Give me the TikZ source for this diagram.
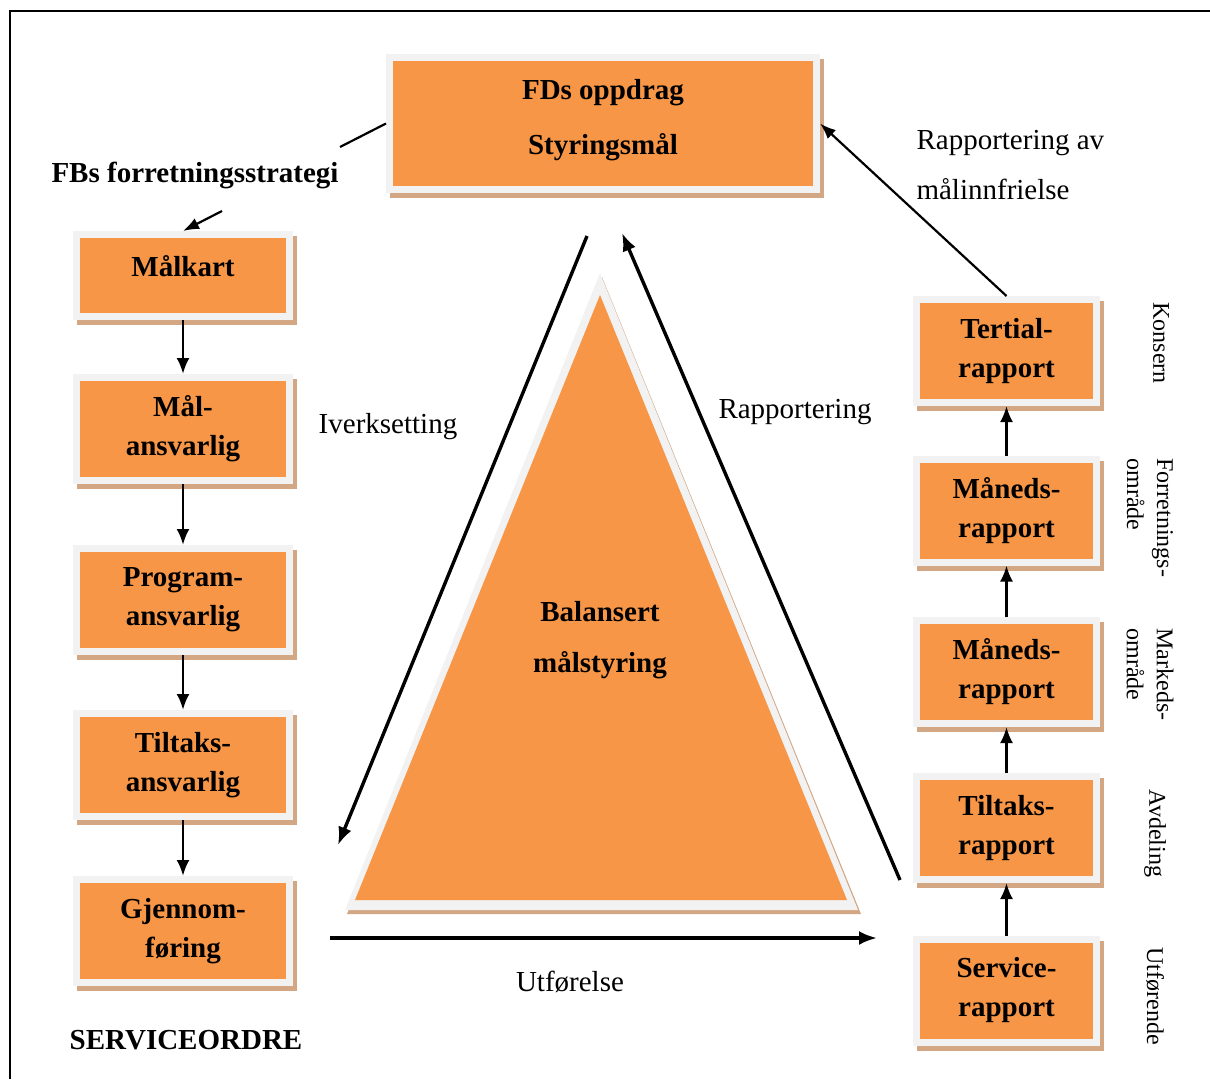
\documentclass[tikz,border=0pt]{standalone}
\usepackage{fontspec}
\setmainfont{Liberation Serif}
\usetikzlibrary{arrows.meta}
\definecolor{boxorange}{RGB}{247,150,70}
\definecolor{framegray}{RGB}{242,242,242}
\definecolor{shadowtan}{RGB}{211,167,131}

\begin{document}
\begin{tikzpicture}[x=1pt,y=-1pt,
  stepbox/.style={fill=boxorange, draw=framegray, line width=7pt, align=center,
    font=\fontsize{29}{39}\selectfont\bfseries,
    preaction={draw=shadowtan, fill=shadowtan, transform canvas={shift={(4pt,-5pt)}}}},
  leftbox/.style={stepbox, minimum width=213pt, minimum height=103pt},
  rightbox/.style={stepbox, minimum width=180pt, minimum height=103pt},
  plain/.style={font=\fontsize{29}{50}\selectfont},
  boldlabel/.style={font=\fontsize{29}{50}\selectfont\bfseries},
  sidelabel/.style={rotate=-90, anchor=west, align=left, font=\fontsize{24}{30}\selectfont},
  vflow/.style={-{Latex[length=16pt,width=13pt]}, line width=2.6pt},
  bigflow/.style={-{Latex[length=18pt,width=14pt]}, line width=3.4pt},
  thinflow/.style={-{Latex[length=16pt,width=12pt]}, line width=2.2pt}
]
\useasboundingbox (0,0) rectangle (1210,1079);

% outer frame
\draw[line width=2pt] (10,1079) -- (10,11) -- (1210,11);

% central triangle
\fill[shadowtan] (602,277) -- (861,914) -- (347,914) -- cycle;
\fill[framegray] (600,273) -- (858,910) -- (345,910) -- cycle;
\fill[boxorange] (600,295) -- (847,900) -- (355,900) -- cycle;
\node[align=center, font=\fontsize{29}{51}\selectfont\bfseries] (bsc) at (600,640) {Balansert\\målstyring};

% top box
\node[stepbox, minimum width=427pt, minimum height=132pt,
      font=\fontsize{29}{55}\selectfont\bfseries] (top) at (603,123.5) {\raisebox{3pt}[\height][\depth]{FDs oppdrag}\\\raisebox{3pt}[\height][\depth]{Styringsmål}};

% left column
\node[stepbox, minimum width=213pt, minimum height=82pt] (malkart) at (183,275.5) {\raisebox{9pt}[\height][\depth]{Målkart}};
\node[leftbox] (malansv) at (183,429) {Mål-\\ansvarlig};
\node[leftbox] (progr) at (183,600) {Program-\\ansvarlig};
\node[leftbox] (tiltak) at (183,765) {Tiltaks-\\ansvarlig};
\node[leftbox] (gjenn) at (183,931) {Gjennom-\\føring};

\draw[vflow] (malkart) -- (malansv);
\draw[vflow] (malansv) -- (progr);
\draw[vflow] (progr) -- (tiltak);
\draw[vflow] (tiltak) -- (gjenn);

% right column
\node[rightbox] (tertial) at (1006.5,351) {Tertial-\\rapport};
\node[rightbox] (maned1) at (1006.5,510.5) {Måneds-\\rapport};
\node[rightbox] (maned2) at (1006.5,672) {Måneds-\\rapport};
\node[rightbox] (tiltrap) at (1006.5,828) {Tiltaks-\\rapport};
\node[rightbox] (service) at (1006.5,990.5) {Service-\\rapport};

\draw[vflow] (service) -- (tiltrap);
\draw[vflow] (tiltrap) -- (maned2);
\draw[vflow] (maned2) -- (maned1);
\draw[vflow] (maned1) -- (tertial);

% level labels
\node[sidelabel] (konsern) at (1161,299) {Konsern};
\node[sidelabel] (forretn) at (1150,455) {Forretnings-\\område};
\node[sidelabel] (marked) at (1150,625) {Markeds-\\område};
\node[sidelabel] (avdeling) at (1155,786) {Avdeling};
\node[sidelabel] (utforende) at (1155,944) {Utførende};

% strategy link
\node[font=\fontsize{29}{50}\selectfont\bfseries] (fbs) at (195,175) {FBs forretningsstrategi};
\coordinate (fbsin) at (340,147);
\coordinate (fbsout) at (222,211);
\draw[line width=2.2pt] (top.west) -- (fbsin);
\draw[thinflow] (fbsout) -- (malkart.north);

% cycle arrows and labels
\coordinate (ivStart) at (587,236);
\coordinate (ivEnd) at (338,845);
\coordinate (rpStart) at (900,880);
\coordinate (rpEnd) at (622,233);
\coordinate (utStart) at (330,938);
\coordinate (utEnd) at (877,938);
\draw[bigflow] (ivStart) -- (ivEnd);
\draw[bigflow] (rpStart) -- (rpEnd);
\draw[bigflow] (utStart) -- (utEnd);
\node[plain] (iverk) at (388,427) {Iverksetting};
\node[plain] (rapp) at (795,412) {Rapportering};
\node[plain] (utf) at (570,982) {Utførelse};

\draw[thinflow] (tertial.north) -- (top.east);
\node[plain, anchor=north west, align=left] (maal) at (913,127) {Rapportering av\\målinnfrielse};

\node[font=\fontsize{29}{50}\selectfont\bfseries] (sorder) at (186,1040) {SERVICEORDRE};
\end{tikzpicture}
\end{document}
